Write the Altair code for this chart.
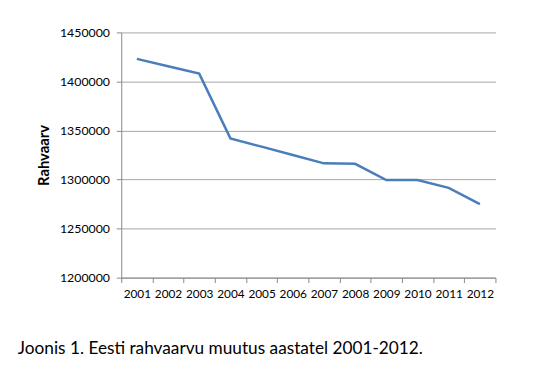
import altair as alt
import pandas as pd

years = ["2001", "2002", "2003", "2004", "2005", "2006", "2007", "2008", "2009", "2010", "2011", "2012"]
population = [1423000, 1415500, 1408000, 1342000, 1333500, 1325000, 1316500, 1316000, 1299500, 1299500, 1291500, 1275000]
y_ticks = [1200000, 1250000, 1300000, 1350000, 1400000, 1450000]

df = pd.DataFrame({"year": years, "pop": population})

FONT = "Lato"

chart = alt.Chart(df).mark_line(color="#4a7ebb", strokeWidth=2.5).encode(
    x=alt.X("year:O", sort=years, title=None,
            scale=alt.Scale(paddingInner=0, paddingOuter=0),
            axis=alt.Axis(labelAngle=0, tickBand="extent", tickSize=5, tickColor="#888888",
                          domainColor="#888888", labelFont=FONT, labelFontSize=12,
                          labelColor="#000000", labelPadding=6, grid=False)),
    y=alt.Y("pop:Q", title="Rahvaarv",
            scale=alt.Scale(domain=[1200000, 1450000], nice=False, zero=False),
            axis=alt.Axis(values=y_ticks, format="d", tickSize=5, tickColor="#888888",
                          domainColor="#888888", gridColor="#a6a6a6", gridWidth=1,
                          labelFont=FONT, labelFontSize=12.5, labelColor="#000000",
                          labelPadding=7, titleFont=FONT, titleFontSize=15,
                          titleFontWeight="bold", titleColor="#000000", titlePadding=8)),
).properties(
    width=380, height=249,
    autosize=alt.AutoSizeParams(type="none"),
    padding={"left": 115, "top": 22, "right": 30, "bottom": 90},
    title=alt.TitleParams("Joonis 1. Eesti rahvaarvu muutus aastatel 2001-2012.",
                          orient="bottom", anchor="start", frame="group", font=FONT, fontSize=17.5,
                          fontWeight="normal", color="#000000", dx=-105, offset=42),
).configure_view(stroke=None)

chart.save("out.html", embed_options={"renderer": "svg", "actions": False})
